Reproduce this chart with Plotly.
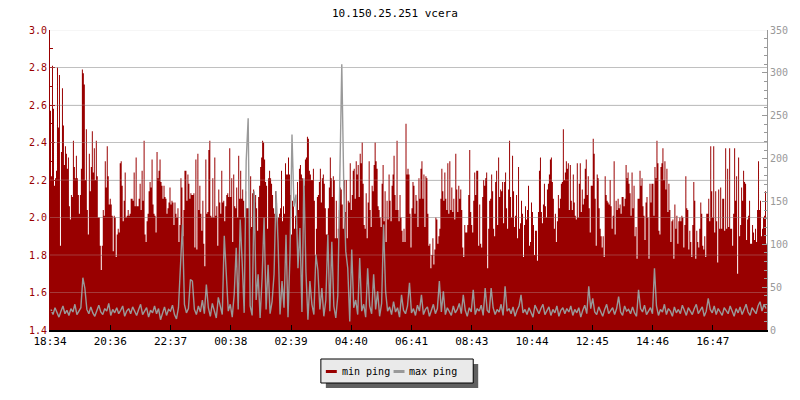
import plotly.graph_objects as go

title_text = "10.150.25.251 vcera"
tick_labels = ["18:34", "20:36", "22:37", "00:38", "02:39", "04:40",
               "06:41", "08:43", "10:44", "12:45", "14:46", "16:47"]
legend_names = ["min ping", "max ping"]

# min ping (left axis, ms) - one sample per 2 minutes
min_ping = [
    2.57, 2.22, 2.81, 2.58, 2.17, 2.21, 2.25, 2.80, 2.48, 2.76,
    1.85, 2.35, 2.69, 2.49, 2.28, 2.38, 2.34, 2.26, 2.32, 2.06,
    1.99, 2.12, 2.11, 2.41, 2.27, 2.21, 2.33, 2.21, 2.12, 2.02,
    2.12, 2.26, 2.79, 2.77, 2.71, 2.20, 2.47, 2.04, 1.91, 2.34,
    2.14, 2.27, 2.46, 2.24, 2.37, 2.20, 2.41, 2.22, 2.00, 2.00,
    1.85, 1.72, 1.85, 2.04, 2.01, 2.30, 2.16, 2.38, 2.22, 2.07,
    2.10, 2.07, 2.01, 1.82, 2.01, 2.00, 1.79, 1.91, 1.94, 1.92,
    2.29, 2.30, 2.17, 1.98, 2.09, 2.24, 2.00, 2.01, 2.04, 2.01,
    2.02, 2.10, 2.10, 2.09, 2.24, 2.06, 2.32, 2.06, 2.06, 2.10,
    2.18, 2.04, 2.25, 2.09, 2.41, 1.91, 1.87, 1.98, 2.02, 2.14,
    2.19, 2.16, 2.31, 2.07, 2.02, 2.01, 1.92, 2.35, 2.21, 2.25,
    2.31, 2.19, 2.17, 2.10, 2.17, 2.11, 2.10, 2.02, 2.05, 2.08,
    2.16, 2.07, 2.09, 2.08, 1.96, 2.08, 2.02, 2.00, 2.05, 1.87,
    1.96, 2.21, 2.16, 1.90, 2.04, 2.25, 2.25, 2.09, 2.23, 2.18,
    2.10, 2.13, 2.12, 2.12,
    2.13, 1.84, 2.31, 1.83, 2.34, 2.04, 2.17, 2.02, 1.93, 2.09,
    1.86, 1.74, 2.31, 2.02, 2.03, 2.36, 2.41, 2.01, 2.00, 2.21,
    2.00, 2.32, 2.01, 2.06, 1.85, 2.15, 2.08, 2.02, 2.25, 2.08,
    2.09, 1.98, 2.06, 2.12, 2.13, 2.11, 2.37, 2.11, 2.21, 1.87,
    2.23, 2.06, 2.05, 2.16, 2.00, 2.33, 2.10, 2.25, 2.10, 2.15,
    2.09, 2.00, 2.14, 2.05, 2.05, 2.05, 1.94, 2.22, 1.95, 2.13,
    2.15, 2.08, 2.12, 2.05, 1.93, 2.11, 2.17, 2.27, 2.32, 2.41,
    2.40, 2.31, 2.19, 2.17, 1.94, 2.21, 2.25, 2.21, 2.18, 2.12,
    2.05, 2.02, 2.14, 2.08, 1.93, 2.00, 2.02, 2.05, 2.25, 1.98,
    2.06, 2.02, 2.29, 2.23, 2.23, 2.32, 2.23, 2.12, 1.91, 2.09,
    2.06, 1.94, 2.01, 1.94, 2.19, 2.04, 2.26, 2.28, 2.23, 2.21,
    2.02, 2.17, 2.31, 2.32, 2.43, 2.42, 2.25, 2.23, 2.20, 2.20,
    2.26, 2.09, 1.80, 1.94, 2.11, 2.12, 2.19, 2.26, 2.08, 2.21,
    2.23, 2.18, 2.05, 1.91, 1.91, 2.05, 2.16, 2.32, 2.21, 2.11,
    2.22, 2.20, 1.89, 2.09,
    1.89, 1.94, 2.04, 2.16, 2.15, 2.07, 1.94, 2.20, 2.03, 2.20,
    1.89, 2.09, 2.08, 2.29, 2.04, 2.12, 2.25, 2.26, 2.10, 2.30,
    2.23, 2.28, 2.11, 2.34, 2.29, 2.40, 2.18, 1.96, 1.94, 2.13,
    1.89, 2.08, 2.30, 2.04, 1.95, 2.17, 2.14, 2.28, 2.40, 2.30,
    2.26, 2.06, 2.04, 2.00, 1.95, 2.18, 2.28, 1.98, 2.14, 1.87,
    2.09, 1.99, 2.23, 2.09, 1.98, 2.17, 2.23, 2.33, 2.12, 2.04,
    2.41, 2.04, 1.98, 2.12, 2.00, 1.93, 1.87, 1.94, 1.87, 2.50,
    2.23, 2.26, 2.23, 2.02, 1.84, 2.05, 2.19, 2.17, 2.02, 2.12,
    2.09, 1.95, 2.21, 2.10, 2.26, 2.30, 2.10, 2.23, 1.95, 2.22,
    2.21, 2.02, 1.85, 1.86, 1.73, 1.80, 1.89, 1.75, 1.83, 2.00,
    1.99, 1.86, 1.90, 1.94, 2.10, 2.26, 2.14, 2.09, 2.24, 2.10,
    2.04, 2.29, 2.02, 2.30, 2.04, 2.16, 2.03, 2.10, 1.99, 2.34,
    2.15, 2.03, 2.17, 2.10, 2.15, 2.04, 1.84, 1.79, 1.96, 1.92,
    1.92, 1.96, 2.12, 2.36, 2.03, 1.96, 1.92, 2.09, 2.24, 2.12,
    2.25, 2.25, 1.85, 2.07,
    1.86, 1.84, 2.11, 2.20, 2.17, 2.21, 2.24, 1.73, 1.94, 2.09,
    2.10, 2.23, 2.14, 1.94, 1.90, 2.19, 2.25, 1.96, 2.32, 2.11,
    2.15, 2.14, 2.19, 1.97, 2.19, 2.24, 2.05, 1.94, 2.15, 2.41,
    2.11, 2.00, 2.33, 2.14, 1.95, 2.01, 2.12, 1.89, 2.27, 1.94,
    1.97, 2.09, 2.02, 1.79, 1.96, 2.06, 1.99, 2.04, 2.17, 1.85,
    1.87, 2.08, 2.03, 1.96, 1.80, 1.93, 1.93, 1.77, 2.03, 2.25,
    2.32, 2.03, 1.97, 2.07, 2.18, 2.06, 2.00, 2.15, 2.18, 2.23,
    2.31, 2.32, 2.19, 2.10, 1.94, 2.02, 1.87, 1.98, 2.12, 2.05,
    2.10, 2.18, 2.19, 2.47, 2.20, 2.24, 2.30, 2.26, 2.29, 2.04,
    2.28, 2.09, 2.04, 2.23, 2.08, 2.01, 1.99, 2.29, 2.00, 2.18,
    2.29, 2.03, 2.15, 2.07, 2.10, 2.26, 2.31, 2.12, 2.22, 2.05,
    1.92, 2.17, 2.17, 2.42, 2.34, 2.10, 1.85, 2.23, 2.21, 2.05,
    1.94, 1.90, 1.84, 1.90, 1.79, 2.22, 2.12, 2.09, 2.08, 2.07,
    2.20, 2.06, 1.94, 2.01, 2.30, 1.91, 2.09, 2.04, 2.10, 2.05,
    2.07, 2.02, 2.11, 2.11,
    2.06, 2.10, 2.28, 2.21, 2.24, 2.18, 2.13, 2.01, 2.24, 2.05,
    2.17, 1.90, 1.95, 1.78, 2.10, 2.10, 2.25, 2.17, 2.21, 2.06,
    2.01, 1.88, 2.08, 2.11, 2.00, 1.78, 2.18, 2.08, 2.18, 2.18,
    2.01, 2.27, 2.21, 2.41, 2.29, 1.93, 1.91, 2.27, 2.29, 2.37,
    2.20, 2.30, 2.15, 2.26, 2.03, 2.18, 2.04, 1.87, 1.98, 1.99,
    1.78, 2.07, 1.94, 2.01, 1.86, 1.98, 2.00, 1.98, 2.01, 2.00,
    1.84, 1.96, 2.22, 2.05, 2.04, 1.83, 1.93, 1.87, 1.79, 1.96,
    2.19, 2.09, 1.78, 1.93, 1.87, 1.84, 1.94, 2.08, 2.02, 1.85,
    1.83, 1.90, 1.79, 2.02, 2.02, 2.10, 1.98, 2.38, 2.14, 2.00,
    2.38, 1.92, 2.14, 1.98, 1.76, 2.15, 1.94, 2.16, 1.94, 2.10,
    2.10, 1.93, 2.37, 1.94, 2.26, 1.95, 2.37, 1.94, 1.94, 1.85,
    2.02, 2.37, 2.09, 2.22, 1.70, 2.32, 1.90, 1.96, 2.16, 2.09,
    2.25, 2.19, 2.18, 1.88, 1.99, 2.01, 2.09, 1.86, 1.86, 1.96,
    1.92, 1.88, 1.94, 1.87, 2.04, 2.30, 2.04, 2.09, 1.90, 1.94,
    2.00, 2.01, 2.14, 1.86,
]

# max ping (right axis, ms) - one value per two min_ping samples
max_ping = [
    24, 18, 26, 20, 15, 22, 28, 19, 23, 17, 25, 21, 30, 18, 22, 26, 61, 49, 24, 19,
    27, 20, 16, 23, 29, 21, 18, 25, 22, 31, 17, 24, 20, 26, 19, 23, 28, 16, 22, 25,
    19, 27, 21, 17, 24, 30, 18, 22, 26, 15, 23, 20, 28, 19, 25, 12, 21, 27, 17, 24,
    22, 29, 18, 13, 26, 72, 123, 30, 20, 25, 59, 57, 24, 18, 28, 21, 35, 19, 53, 26,
    16, 31, 22, 14, 38, 27, 18, 110, 66, 22, 30, 15, 42, 96, 24, 129, 78, 20, 197, 247,
    28, 17, 162, 35, 65, 14, 61, 131, 24, 76, 19, 33, 65, 162, 103, 18, 57, 26, 111, 15,
    88, 228, 144, 158, 72, 119, 21, 177, 68, 12, 57, 30, 18, 88, 70, 24, 49, 16, 35, 111,
    22, 103, 28, 14, 40, 185, 310, 168, 92, 72, 10, 94, 26, 35, 18, 84, 22, 30, 15, 72,
    28, 19, 65, 24, 45, 16, 31, 123, 45, 22, 27, 18, 33, 21, 26, 15, 41, 23, 19, 28,
    55, 20, 25, 17, 29, 22, 41, 18, 24, 27, 16, 23, 30, 19, 25, 57, 21, 45, 18, 26,
    22, 17, 28, 20, 24, 31, 19, 41, 23, 16, 26, 21, 47, 18, 25, 22, 29, 17, 49, 23,
    20, 49, 26, 18, 24, 21, 30, 17, 51, 22, 25, 19, 27, 16, 23, 28, 41, 20, 24, 18,
    26, 21, 15, 29, 23, 19, 25, 30, 18, 22, 27, 17, 24, 20, 28, 16, 23, 26, 19, 25,
    21, 28, 17, 24, 20, 26, 15, 23, 29, 19, 51, 25, 37, 21, 18, 27, 22, 16, 24, 30,
    19, 23, 26, 18, 25, 39, 21, 17, 28, 22, 24, 19, 27, 20, 16, 47, 25, 21, 29, 18,
    23, 26, 19, 72, 28, 17, 24, 21, 30, 18, 25, 22, 16, 27, 20, 24, 19, 29, 23, 17,
    26, 21, 18, 25, 30, 19, 23, 27, 16, 22, 37, 24, 20, 28, 18, 25, 21, 17, 26, 23,
    19, 28, 22, 16, 25, 20, 27, 18, 24, 30, 21, 17, 26, 23, 19, 28, 33, 22, 30, 25,
]

RED = "#990000"
GRAY = "#999999"
FONT = "DejaVu Sans Mono"

n = len(min_ping)
x_red = list(range(n + 1))
y_red = min_ping + [min_ping[-1]]
step = n / len(max_ping)
x_gray = [step * j + step / 2 for j in range(len(max_ping))]
tick_step = n / 11.9
tick_vals = [i * tick_step for i in range(len(tick_labels))]
grid_vals = [1.6, 1.8, 2.0, 2.2, 2.4, 2.6, 2.8, 3.0]

fig = go.Figure()
fig.add_trace(go.Scatter(
    x=x_red, y=y_red, mode="lines", line=dict(shape="hv", width=0, color=RED),
    fill="tozeroy", fillcolor=RED, name=legend_names[0], showlegend=False,
    hoverinfo="skip"))
fig.add_trace(go.Scatter(
    x=x_gray, y=max_ping, mode="lines", line=dict(width=1.4, color=GRAY),
    name=legend_names[1], yaxis="y2", showlegend=False, hoverinfo="skip"))

# the page body has an 8px margin: figure is 792x392 so the plot area
# lands at x 50..770, y 30..330 of the 800x400 window
fig.update_layout(
    width=792, height=392,
    margin=dict(l=42, r=30, t=22, b=70),
    paper_bgcolor="white", plot_bgcolor="white",
    font=dict(family=FONT, size=10, color="black"),
    showlegend=False,
    xaxis=dict(range=[0, n], tickvals=tick_vals, ticktext=tick_labels,
               ticks="inside", ticklen=5, tickcolor="black", tickwidth=1,
               showline=True, linecolor="black", linewidth=2,
               showgrid=False, zeroline=False,
               tickfont=dict(family=FONT, size=11, color="black")),
    yaxis=dict(range=[1.4, 3.0], dtick=0.2, tick0=1.4, tickformat=".1f",
               ticks="inside", ticklen=5, tickcolor=RED,
               showline=True, linecolor=RED, linewidth=1,
               showgrid=True, gridcolor="#c0c0c0", gridwidth=1, zeroline=False,
               minor=dict(dtick=0.1, ticks="inside", ticklen=3, tickcolor=RED,
                          showgrid=False),
               tickfont=dict(family=FONT, size=10, color=RED)),
    yaxis2=dict(range=[0, 350], dtick=50, overlaying="y", side="right",
                ticks="inside", ticklen=5, tickcolor=GRAY,
                showline=True, linecolor=GRAY, linewidth=1,
                showgrid=False, zeroline=False,
                minor=dict(dtick=10, ticks="inside", ticklen=3, tickcolor=GRAY,
                           showgrid=False),
                tickfont=dict(family=FONT, size=10, color=GRAY)),
)

def px_x(p):
    return (p - 50) / 720.0

def px_y(p):
    return (330 - p) / 300.0

shapes = [
    dict(type="line", xref="paper", yref="y", x0=0, x1=1, y0=g, y1=g,
         layer="above", line=dict(color="rgba(192,192,192,0.3)", width=1))
    for g in grid_vals
]
shapes += [
    # legend shadow
    dict(type="rect", xref="paper", yref="paper",
         x0=px_x(327), x1=px_x(480), y0=px_y(364), y1=px_y(388),
         fillcolor="#606060", line=dict(width=0)),
    # legend box
    dict(type="rect", xref="paper", yref="paper",
         x0=px_x(322), x1=px_x(475), y0=px_y(359), y1=px_y(383),
         fillcolor="#eaeaea", line=dict(color="black", width=1)),
    dict(type="line", xref="paper", yref="paper",
         x0=px_x(327), x1=px_x(338), y0=px_y(371.5), y1=px_y(371.5),
         line=dict(color=RED, width=3)),
    dict(type="line", xref="paper", yref="paper",
         x0=px_x(395), x1=px_x(406), y0=px_y(371.5), y1=px_y(371.5),
         line=dict(color=GRAY, width=3)),
]
fig.update_layout(shapes=shapes)

fig.add_annotation(text=title_text, xref="paper", yref="paper",
                   x=px_x(396), y=px_y(13), xanchor="center", yanchor="middle",
                   showarrow=False, font=dict(family=FONT, size=11, color="black"))
fig.add_annotation(text=legend_names[0], xref="paper", yref="paper",
                   x=px_x(341), y=px_y(371), xanchor="left", yanchor="middle",
                   showarrow=False, font=dict(family=FONT, size=10, color="black"))
fig.add_annotation(text=legend_names[1], xref="paper", yref="paper",
                   x=px_x(408), y=px_y(371), xanchor="left", yanchor="middle",
                   showarrow=False, font=dict(family=FONT, size=10, color="black"))

fig.write_html("out.html")
